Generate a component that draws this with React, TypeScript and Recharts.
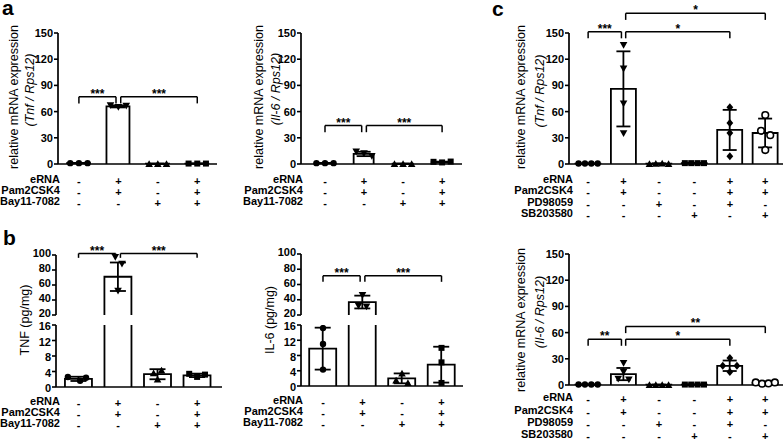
import React from 'react';
import { ComposedChart, Bar, Scatter, XAxis, YAxis, ErrorBar, ReferenceLine } from 'recharts';

const FONT = 'Arial, "Liberation Sans", Helvetica, sans-serif';

// ---------- shared labels ----------
const rowNamesAB = ['eRNA', 'Pam2CSK4', 'Bay11-7082'];
const signsAB = [
  ['-', '+', '-', '+'],
  ['-', '+', '-', '+'],
  ['-', '-', '+', '+'],
];
const rowNamesC = ['eRNA', 'Pam2CSK4', 'PD98059', 'SB203580'];
const signsC = [
  ['-', '+', '-', '-', '+', '+'],
  ['-', '+', '-', '-', '+', '+'],
  ['-', '-', '+', '-', '+', '-'],
  ['-', '-', '-', '+', '-', '+'],
];
const markersAB = ['circle', 'triDown', 'triUp', 'square'];
const markersC = ['circle', 'triDown', 'triUp', 'square', 'diamond', 'openCircle'];
const hubGroup = 2;

const mrnaTicks = [0, 30, 60, 90, 120, 150];
const upperTicks = [20, 40, 60, 80, 100];
const lowerTicks = [0, 4, 8, 12, 16];

// ---------- panel a : Tnf mRNA ----------
const aTnfMean = [1, 66, 0.3, 0.5];
const aTnfSd = [0.2, 1.2, 0.1, 0.1];
const aTnfPts = [[1, 1, 1], [67, 65, 66.5], [0.3, 0.3, 0.3], [0.5, 0.5, 0.5]];
const aTnfJit = [[-0.22, 0, 0.22], [-0.2, 0, 0.2], [-0.22, 0, 0.22], [-0.22, 0, 0.22]];
const aTnfSig = [
  { from: 1, to: 2, y: 77, label: '***' },
  { from: 2, to: 4, y: 77, label: '***' },
];

// ---------- panel a : Il-6 mRNA ----------
const aIl6Mean = [1, 11.5, 0.3, 2.2];
const aIl6Sd = [0.2, 2.5, 0.1, 0.5];
const aIl6Pts = [[1, 1, 1], [14, 12, 9], [0.3, 0.3, 0.3], [2.5, 1.8, 2.8]];
const aIl6Jit = [[-0.22, 0, 0.22], [-0.2, 0, 0.2], [-0.22, 0, 0.22], [-0.22, 0, 0.22]];
const aIl6Sig = [
  { from: 1, to: 2, y: 44, label: '***' },
  { from: 2, to: 4, y: 44, label: '***' },
];

// ---------- panel b : TNF protein ----------
const bTnfMean = [2.1, 71, 3.3, 3.0];
const bTnfSd = [0.55, 19, 1.3, 0.45];
const bTnfPts = [[2.6, 1.6, 2.4], [97, 88, 52], [4.3, 3.6, 2.0], [3.4, 2.6, 3.2]];
const bTnfJit = [[-0.27, 0.04, 0.19], [-0.07, 0.1, 0], [0.1, -0.1, 0], [-0.2, 0, 0.2]];
const bTnfSig = [
  { from: 1, to: 2, y: 102, label: '***' },
  { from: 2, to: 4, y: 102, label: '***' },
];

// ---------- panel b : IL-6 protein ----------
const bIl6Mean = [9.8, 37, 2.0, 5.6];
const bIl6Sd = [5.5, 8.4, 1.3, 4.7];
const bIl6Pts = [[15.2, 11, 4.3], [46, 32, 31], [3.3, 1.5, 0.8], [10, 6.2, 0.8]];
const bIl6Jit = [[0, 0, 0], [0, -0.1, 0.1], [0, -0.15, 0.15], [0, 0, 0]];
const bIl6Sig = [
  { from: 1, to: 2, y: 71.5, label: '***' },
  { from: 2, to: 4, y: 71.5, label: '***' },
];

// ---------- panel c : Tnf mRNA ----------
const cTnfMean = [0.5, 86, 0.5, 1, 39, 35.5];
const cTnfSd = [0.1, 43, 0.2, 0.3, 23, 16.5];
const cTnfPts = [
  [0.5, 0.5, 0.5, 0.5], [136, 109, 69, 35], [0.3, 0.5, 0.8, 0.3],
  [1, 1, 1, 1], [65, 47, 35.5, 9], [56, 38, 33, 16],
];
const cTnfJit = [
  [-0.27, -0.09, 0.09, 0.27], [0, 0, 0, 0], [-0.27, -0.09, 0.09, 0.27],
  [-0.27, -0.09, 0.09, 0.27], [0, 0, 0, 0], [0, -0.12, 0.14, 0],
];
const cTnfSig = [
  { from: 1, to: 2, y: 151.5, label: '***' },
  { from: 2, to: 5, y: 151.5, label: '*' },
  { from: 2, to: 6, y: 172.6, label: '*' },
];

// ---------- panel c : Il-6 mRNA ----------
const cIl6Mean = [0.5, 12.5, 0.3, 0.5, 22, 2.3];
const cIl6Sd = [0.1, 7, 0.1, 0.2, 6, 0.9];
const cIl6Pts = [
  [0.5, 0.5, 0.5, 0.5], [25, 15, 7, 6], [0.3, 0.3, 0.3, 0.3],
  [0.5, 0.5, 0.5, 0.5], [31, 22, 22, 15], [3, 1.5, 1.8, 3],
];
const cIl6Jit = [
  [-0.27, -0.09, 0.09, 0.27], [0, 0, -0.15, 0.15], [-0.27, -0.09, 0.09, 0.27],
  [-0.27, -0.09, 0.09, 0.27], [0, -0.2, 0.2, 0], [-0.27, -0.09, 0.09, 0.27],
];
const cIl6Sig = [
  { from: 1, to: 2, y: 52.5, label: '**' },
  { from: 2, to: 5, y: 52.5, label: '*' },
  { from: 2, to: 6, y: 67, label: '**' },
];

type Sig = { from: number; to: number; y: number; label: string };

const Marker = (props: any) => {
  const { cx, cy, payload } = props;
  if (cx == null || cy == null || !payload) return <g />;
  switch (payload.marker) {
    case 'circle':
      return <circle cx={cx} cy={cy} r={3.2} fill="#000" />;
    case 'openCircle':
      return <circle cx={cx} cy={cy} r={3.3} fill="#fff" stroke="#000" strokeWidth={1.6} />;
    case 'triDown':
      return <path d={`M${cx - 3.8},${cy - 3.2}L${cx + 3.8},${cy - 3.2}L${cx},${cy + 3.6}Z`} fill="#000" />;
    case 'triUp':
      return <path d={`M${cx - 3.8},${cy + 3.2}L${cx + 3.8},${cy + 3.2}L${cx},${cy - 3.6}Z`} fill="#000" />;
    case 'square':
      return <rect x={cx - 3} y={cy - 3} width={6} height={6} fill="#000" />;
    case 'diamond':
      return <path d={`M${cx},${cy - 4}L${cx + 3.4},${cy}L${cx},${cy + 4}L${cx - 3.4},${cy}Z`} fill="#000" />;
  }
  return <g />;
};

type PanelProps = {
  left: number; top: number; w: number; h: number;
  xDomain: [number, number]; yDomain: [number, number]; yTicks: number[];
  means: number[]; sds: number[]; pts: number[][]; jit: number[][]; markers: string[];
  barSize: number; cap: number; sig?: Sig[]; drop?: number;
  rows?: string[][]; rowDy?: number[]; padTop: number; padBottom: number;
  segment?: 'upper' | 'lower';
};

function Panel(p: PanelProps) {
  const [lo, hi] = p.yDomain;
  const upper = p.segment === 'upper';
  const lower = p.segment === 'lower';
  const barData = p.means.map((m, i) => {
    const inSeg = upper ? m >= lo : lower ? m <= hi : true;
    return { x: i + 1, mean: upper && !inSeg ? null : m, err: inSeg ? p.sds[i] : null };
  });
  const ptData: any[] = [];
  p.pts.forEach((g, i) =>
    g.forEach((v, j) => {
      if (upper && v < lo) return;
      if (lower && v > hi) return;
      ptData.push({ x: i + 1 + p.jit[i][j], y: v, marker: p.markers[i] });
    })
  );
  const yW = 40;
  const right = 6;
  const W = yW + p.w + right;
  const H = p.padTop + p.h + p.padBottom;
  const ticks = p.means.map((_, i) => i + 1);
  const drop = p.drop ?? 7;
  const tickDy = upper ? -1.5 : lower ? 1.5 : 0;

  const rowTick = (tp: any) => {
    const i = Math.round(tp.payload.value) - 1;
    return (
      <g>
        {(p.rows || []).map((r, k) => (
          <text key={k} x={tp.x} y={tp.y + (p.rowDy || [])[k]} textAnchor="middle" dominantBaseline="central"
            fontSize={11} fontWeight={700} fontFamily={FONT} fill="#000">{r[i]}</text>
        ))}
      </g>
    );
  };

  const barShape = (bp: any) => {
    const { x, y, width, height, payload } = bp;
    if (!payload || payload.mean == null || (upper && payload.mean < lo)) return <g />;
    if (x == null || y == null || !isFinite(height)) return <g />;
    const cx = x + width / 2;
    const x0 = cx - p.barSize / 2;
    const x1 = cx + p.barSize / 2;
    return (
      <path d={`M${x0},${y + height}L${x0},${y}L${x1},${y}L${x1},${y + height}`}
        fill="#fff" stroke="#000" strokeWidth={1.8} />
    );
  };

  const st = { stroke: '#000', strokeWidth: 1.5 };
  const brackets: any[] = [];
  (p.sig || []).forEach((s, k) => {
    const x1 = s.from === hubGroup ? s.from + 0.06 : s.from;
    const x2 = s.to === hubGroup ? s.to - 0.06 : s.to;
    brackets.push(
      <ReferenceLine key={`h${k}`} segment={[{ x: x1, y: s.y }, { x: x2, y: s.y }]} {...st} ifOverflow="visible"
        label={{ value: s.label, position: 'top', offset: -1, fill: '#000', fontSize: 12, fontWeight: 700, fontFamily: FONT }} />,
      <ReferenceLine key={`l${k}`} segment={[{ x: x1, y: s.y }, { x: x1, y: s.y - drop }]} {...st} ifOverflow="visible" />,
      <ReferenceLine key={`r${k}`} segment={[{ x: x2, y: s.y }, { x: x2, y: s.y - drop }]} {...st} ifOverflow="visible" />
    );
  });

  return (
    <div style={{ position: 'absolute', left: p.left - yW, top: p.top - p.padTop }}>
      <ComposedChart width={W} height={H} data={barData}
        margin={{ top: p.padTop, right, bottom: p.rows ? 0 : p.padBottom, left: 0 }}>
        <XAxis dataKey="x" type="number" domain={p.xDomain} ticks={ticks} interval={0}
          height={p.rows ? p.padBottom : 0} hide={!p.rows} tickSize={0} tickMargin={0}
          axisLine={{ stroke: '#000', strokeWidth: 1.7 }} tickLine={false} tick={rowTick} />
        <YAxis type="number" domain={p.yDomain} ticks={p.yTicks} interval={0} width={yW}
          tickSize={4} tickMargin={1} allowDataOverflow={lower}
          axisLine={{ stroke: '#000', strokeWidth: 1.7 }} tickLine={{ stroke: '#000', strokeWidth: 1.6 }}
          tick={{ fill: '#000', fontSize: 11, fontWeight: 700, fontFamily: FONT, dy: tickDy }} />
        <Bar dataKey="mean" barSize={p.barSize} isAnimationActive={false} shape={barShape}>
          <ErrorBar dataKey="err" width={p.cap} stroke="#000" strokeWidth={1.8} direction="y" />
        </Bar>
        <Scatter data={ptData} dataKey="y" isAnimationActive={false} shape={Marker} />
        {brackets}
      </ComposedChart>
    </div>
  );
}

const RowNames = ({ right, axisY, dy, names }: { right: number; axisY: number; dy: number[]; names: string[] }) => (
  <>
    {names.map((n, k) => (
      <div key={n} style={{
        position: 'absolute', left: right - 150, width: 150, top: axisY + dy[k] - 8, height: 16,
        lineHeight: '16px', textAlign: 'right', font: `bold 11px ${FONT}`, color: '#000', whiteSpace: 'nowrap',
      }}>{n}</div>
    ))}
  </>
);

const VTitle = ({ x, y, children, italic }: { x: number; y: number; children: React.ReactNode; italic?: boolean }) => (
  <div style={{
    position: 'absolute', left: x, top: y, transform: 'translate(-50%,-50%) rotate(-90deg)',
    whiteSpace: 'nowrap', font: `${italic ? 'italic ' : ''}12.5px ${FONT}`, color: '#000', lineHeight: '13px',
  }}>{children}</div>
);

const Letter = ({ x, y, t, lh }: { x: number; y: number; t: string; lh: number }) => (
  <div style={{ position: 'absolute', left: x, top: y, font: `bold 21px ${FONT}`, lineHeight: `${lh}px`, color: '#000' }}>{t}</div>
);

const rowDyA = [17, 28, 39];
const rowDyB = [16, 27, 38];
const rowDyC1 = [17, 28.3, 39.6, 50.9];
const rowDyC2 = [14, 26.5, 39, 51];

export default function App() {
  return (
    <div style={{ position: 'absolute', left: 0, top: 0, width: 783, height: 445, overflow: 'hidden', background: '#fff' }}>
      <Letter x={2} y={1} lh={13.5} t="a" />
      <Letter x={3} y={230} lh={15.5} t="b" />
      <Letter x={492} y={1} lh={15.5} t="c" />

      {/* a – Tnf */}
      <VTitle x={14} y={97}>relative mRNA expression</VTitle>
      <VTitle x={30} y={90} italic>(Tnf / Rps12)</VTitle>
      <Panel left={58} top={33} w={159} h={131} xDomain={[0.47, 4.5]} yDomain={[0, 150]} yTicks={mrnaTicks}
        means={aTnfMean} sds={aTnfSd} pts={aTnfPts} jit={aTnfJit} markers={markersAB}
        barSize={23} cap={7} sig={aTnfSig} drop={7.6} rows={signsAB} rowDy={rowDyA} padTop={20} padBottom={50} />
      <RowNames right={60} axisY={164} dy={rowDyA} names={rowNamesAB} />

      {/* a – Il-6 */}
      <VTitle x={259} y={97}>relative mRNA expression</VTitle>
      <VTitle x={276} y={89} italic>(Il-6 / Rps12)</VTitle>
      <Panel left={301} top={33} w={161} h={131} xDomain={[0.385, 4.51]} yDomain={[0, 150]} yTicks={mrnaTicks}
        means={aIl6Mean} sds={aIl6Sd} pts={aIl6Pts} jit={aIl6Jit} markers={markersAB}
        barSize={20} cap={7} sig={aIl6Sig} drop={7.6} rows={signsAB} rowDy={rowDyA} padTop={20} padBottom={50} />
      <RowNames right={303} axisY={164} dy={rowDyA} names={rowNamesAB} />

      {/* b – TNF */}
      <VTitle x={25} y={320}>TNF (pg/mg)</VTitle>
      <Panel left={56} top={255} w={166} h={60} xDomain={[0.43, 4.63]} yDomain={[20, 100]} yTicks={upperTicks}
        means={bTnfMean} sds={bTnfSd} pts={bTnfPts} jit={bTnfJit} markers={markersAB}
        barSize={27} cap={8} sig={bTnfSig} drop={5.8} padTop={20} padBottom={8} segment="upper" />
      <Panel left={56} top={325} w={166} h={62} xDomain={[0.43, 4.63]} yDomain={[0, 16]} yTicks={lowerTicks}
        means={bTnfMean} sds={bTnfSd} pts={bTnfPts} jit={bTnfJit} markers={markersAB}
        barSize={27} cap={8} rows={signsAB} rowDy={rowDyB} padTop={6} padBottom={48} segment="lower" />
      <RowNames right={60} axisY={387} dy={rowDyB} names={rowNamesAB} />

      {/* b – IL-6 */}
      <VTitle x={270} y={320}>IL-6 (pg/mg)</VTitle>
      <Panel left={301} top={254} w={162} h={61} xDomain={[0.443, 4.544]} yDomain={[20, 100]} yTicks={upperTicks}
        means={bIl6Mean} sds={bIl6Sd} pts={bIl6Pts} jit={bIl6Jit} markers={markersAB}
        barSize={27} cap={8} sig={bIl6Sig} drop={8} padTop={20} padBottom={8} segment="upper" />
      <Panel left={301} top={325} w={162} h={61} xDomain={[0.443, 4.544]} yDomain={[0, 16]} yTicks={lowerTicks}
        means={bIl6Mean} sds={bIl6Sd} pts={bIl6Pts} jit={bIl6Jit} markers={markersAB}
        barSize={27} cap={8} rows={signsAB} rowDy={rowDyB} padTop={6} padBottom={48} segment="lower" />
      <RowNames right={303} axisY={386} dy={rowDyB} names={rowNamesAB} />

      {/* c – Tnf */}
      <VTitle x={521} y={97}>relative mRNA expression</VTitle>
      <VTitle x={540} y={91} italic>(Tnf / Rps12)</VTitle>
      <Panel left={569} top={33} w={214} h={131} xDomain={[0.46, 6.5]} yDomain={[0, 150]} yTicks={mrnaTicks}
        means={cTnfMean} sds={cTnfSd} pts={cTnfPts} jit={cTnfJit} markers={markersC}
        barSize={25} cap={7} sig={cTnfSig} drop={7.6} rows={signsC} rowDy={rowDyC1} padTop={33} padBottom={60} />
      <RowNames right={573} axisY={164} dy={rowDyC1} names={rowNamesC} />

      {/* c – Il-6 */}
      <VTitle x={521} y={320}>relative mRNA expression</VTitle>
      <VTitle x={540} y={312} italic>(Il-6 / Rps12)</VTitle>
      <Panel left={569} top={254} w={214} h={131} xDomain={[0.46, 6.5]} yDomain={[0, 150]} yTicks={mrnaTicks}
        means={cIl6Mean} sds={cIl6Sd} pts={cIl6Pts} jit={cIl6Jit} markers={markersC}
        barSize={25} cap={7} sig={cIl6Sig} drop={7.6} rows={signsC} rowDy={rowDyC2} padTop={20} padBottom={60} />
      <RowNames right={573} axisY={385} dy={rowDyC2} names={rowNamesC} />
    </div>
  );
}
